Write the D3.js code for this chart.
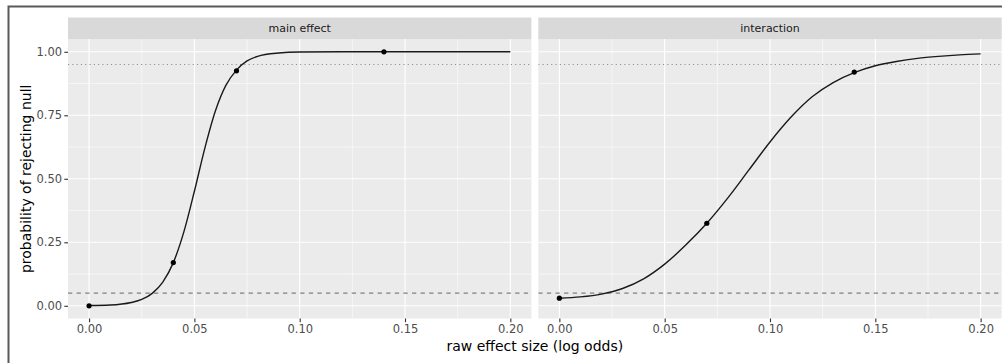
<!DOCTYPE html>
<html>
<head>
<meta charset="utf-8">
<script src="https://cdn.jsdelivr.net/npm/d3@7"></script>
<style>
  body { margin: 0; background: #fff; }
  svg { display: block; font-family: "DejaVu Sans", sans-serif; }
</style>
</head>
<body>
<svg id="chart" width="1002" height="363"></svg>
<script>
// facet names
var facets = ["main effect", "interaction"];

// fitted power curves
var mainCurveX = [0, 0.01, 0.02, 0.025, 0.03, 0.035, 0.04, 0.045, 0.05, 0.055, 0.06, 0.065, 0.07, 0.075, 0.08, 0.09, 0.10, 0.12, 0.14, 0.16, 0.18, 0.20];
var mainCurveY = [0.001, 0.003, 0.013, 0.025, 0.049, 0.093, 0.170, 0.291, 0.451, 0.622, 0.768, 0.869, 0.928, 0.964, 0.982, 0.995, 0.999, 1.0, 1.0, 1.0, 1.0, 1.0];
var interactionCurveX = [0, 0.01, 0.02, 0.03, 0.04, 0.05, 0.06, 0.07, 0.08, 0.09, 0.10, 0.11, 0.12, 0.13, 0.14, 0.15, 0.16, 0.17, 0.18, 0.19, 0.20];
var interactionCurveY = [0.030, 0.035, 0.046, 0.068, 0.106, 0.164, 0.239, 0.325, 0.425, 0.535, 0.645, 0.743, 0.823, 0.879, 0.918, 0.945, 0.962, 0.974, 0.982, 0.988, 0.992];

// simulated power estimates (points)
var mainPointsX = [0, 0.04, 0.07, 0.14];
var mainPointsY = [0.0, 0.17, 0.925, 1.0];
var interactionPointsX = [0, 0.07, 0.14];
var interactionPointsY = [0.03, 0.325, 0.92];

// reference lines
var alphaLevel = 0.05;
var powerTarget = 0.95;

// tick labels
var xTicks = [0, 0.05, 0.10, 0.15, 0.20];
var xMinor = [0.025, 0.075, 0.125, 0.175];
var yTicks = [0, 0.25, 0.50, 0.75, 1.00];
var yMinor = [0.125, 0.375, 0.625, 0.875];

var curves = [
    { x: mainCurveX, y: mainCurveY, px: mainPointsX, py: mainPointsY },
    { x: interactionCurveX, y: interactionCurveY, px: interactionPointsX, py: interactionPointsY }
];

var svg = d3.select("#chart");

// frame of the screenshot
svg.append("path")
    .attr("d", "M8.5,363V6.5H1002")
    .attr("fill", "none")
    .attr("stroke", "#5a5a5a")
    .attr("stroke-width", 2);

var panelTop = 39.1, panelBottom = 318.5, stripTop = 17.5;
var panelLeft = [68, 538.3], panelWidth = 463.4;

var y = d3.scaleLinear().domain([-0.05, 1.05]).range([panelBottom, panelTop]);

var line = d3.line().curve(d3.curveMonotoneX);

facets.forEach(function(name, i) {
    var x = d3.scaleLinear().domain([-0.01, 0.21]).range([panelLeft[i], panelLeft[i] + panelWidth]);
    var x0 = panelLeft[i], x1 = panelLeft[i] + panelWidth;
    var g = svg.append("g");

    g.append("clipPath").attr("id", "clip" + i)
      .append("rect")
        .attr("x", x0).attr("y", panelTop)
        .attr("width", panelWidth).attr("height", panelBottom - panelTop);

    g.append("rect")
        .attr("x", x0).attr("y", panelTop)
        .attr("width", panelWidth).attr("height", panelBottom - panelTop)
        .attr("fill", "#EBEBEB");

    // strip
    g.append("rect")
        .attr("x", x0).attr("y", stripTop)
        .attr("width", panelWidth).attr("height", panelTop - stripTop)
        .attr("fill", "#D9D9D9");
    g.append("text")
        .attr("x", x(0.1)).attr("y", (stripTop + panelTop) / 2)
        .attr("text-anchor", "middle").attr("dy", "0.35em")
        .attr("font-size", 11).attr("fill", "#1A1A1A")
        .text(name);

    var inner = g.append("g").attr("clip-path", "url(#clip" + i + ")");

    // grid
    inner.selectAll(".ymin").data(yMinor).enter().append("line")
        .attr("x1", x0).attr("x2", x1)
        .attr("y1", function(d) { return y(d); }).attr("y2", function(d) { return y(d); })
        .attr("stroke", "#fff").attr("stroke-width", 0.55);
    inner.selectAll(".xmin").data(xMinor).enter().append("line")
        .attr("y1", panelTop).attr("y2", panelBottom)
        .attr("x1", function(d) { return x(d); }).attr("x2", function(d) { return x(d); })
        .attr("stroke", "#fff").attr("stroke-width", 0.55);
    inner.selectAll(".ymaj").data(yTicks).enter().append("line")
        .attr("x1", x0).attr("x2", x1)
        .attr("y1", function(d) { return y(d); }).attr("y2", function(d) { return y(d); })
        .attr("stroke", "#fff").attr("stroke-width", 1.1);
    inner.selectAll(".xmaj").data(xTicks).enter().append("line")
        .attr("y1", panelTop).attr("y2", panelBottom)
        .attr("x1", function(d) { return x(d); }).attr("x2", function(d) { return x(d); })
        .attr("stroke", "#fff").attr("stroke-width", 1.1);

    // reference lines
    inner.append("line")
        .attr("x1", x0).attr("x2", x1)
        .attr("y1", y(alphaLevel)).attr("y2", y(alphaLevel))
        .attr("stroke", "#808080").attr("stroke-width", 1.1)
        .attr("stroke-dasharray", "4.3,4.3");
    inner.append("line")
        .attr("x1", x0).attr("x2", x1)
        .attr("y1", y(powerTarget)).attr("y2", y(powerTarget))
        .attr("stroke", "#8a8a8a").attr("stroke-width", 1.1)
        .attr("stroke-dasharray", "1.1,3.2");

    // curve and points
    var c = curves[i];
    inner.append("path")
        .attr("d", line(c.x.map(function(v, k) { return [x(v), y(c.y[k])]; })))
        .attr("fill", "none").attr("stroke", "#1a1a1a").attr("stroke-width", 1.4);
    inner.selectAll(".pt").data(c.px).enter().append("circle")
        .attr("cx", function(d) { return x(d); })
        .attr("cy", function(d, k) { return y(c.py[k]); })
        .attr("r", 2.6).attr("fill", "#000");

    // x axis
    var xAxis = d3.axisBottom(x).tickValues(xTicks).tickFormat(d3.format(".2f"))
        .tickSizeInner(3.7).tickSizeOuter(0).tickPadding(2.5);
    var ax = g.append("g").attr("transform", "translate(0," + panelBottom + ")").call(xAxis);
    ax.select(".domain").remove();
    ax.selectAll("line").attr("stroke", "#333").attr("stroke-width", 1.1);
    ax.selectAll("text").attr("fill", "#4D4D4D").attr("font-size", 11.5)
        .attr("font-family", "DejaVu Sans");
});

// y axis
var yAxis = d3.axisLeft(y).tickValues(yTicks).tickFormat(d3.format(".2f"))
    .tickSizeInner(3.7).tickSizeOuter(0).tickPadding(2.2);
var ay = svg.append("g").attr("transform", "translate(" + panelLeft[0] + ",0)").call(yAxis);
ay.select(".domain").remove();
ay.selectAll("line").attr("stroke", "#333").attr("stroke-width", 1.1);
ay.selectAll("text").attr("fill", "#4D4D4D").attr("font-size", 11.5)
    .attr("font-family", "DejaVu Sans");

// axis titles
svg.append("text")
    .attr("x", (panelLeft[0] + panelLeft[1] + panelWidth) / 2).attr("y", 351)
    .attr("text-anchor", "middle").attr("font-size", 14).attr("fill", "#000")
    .text("raw effect size (log odds)");
svg.append("text")
    .attr("transform", "translate(31," + (panelTop + panelBottom) / 2 + ") rotate(-90)")
    .attr("text-anchor", "middle").attr("font-size", 14).attr("fill", "#000")
    .text("probability of rejecting null");
</script>
</body>
</html>
